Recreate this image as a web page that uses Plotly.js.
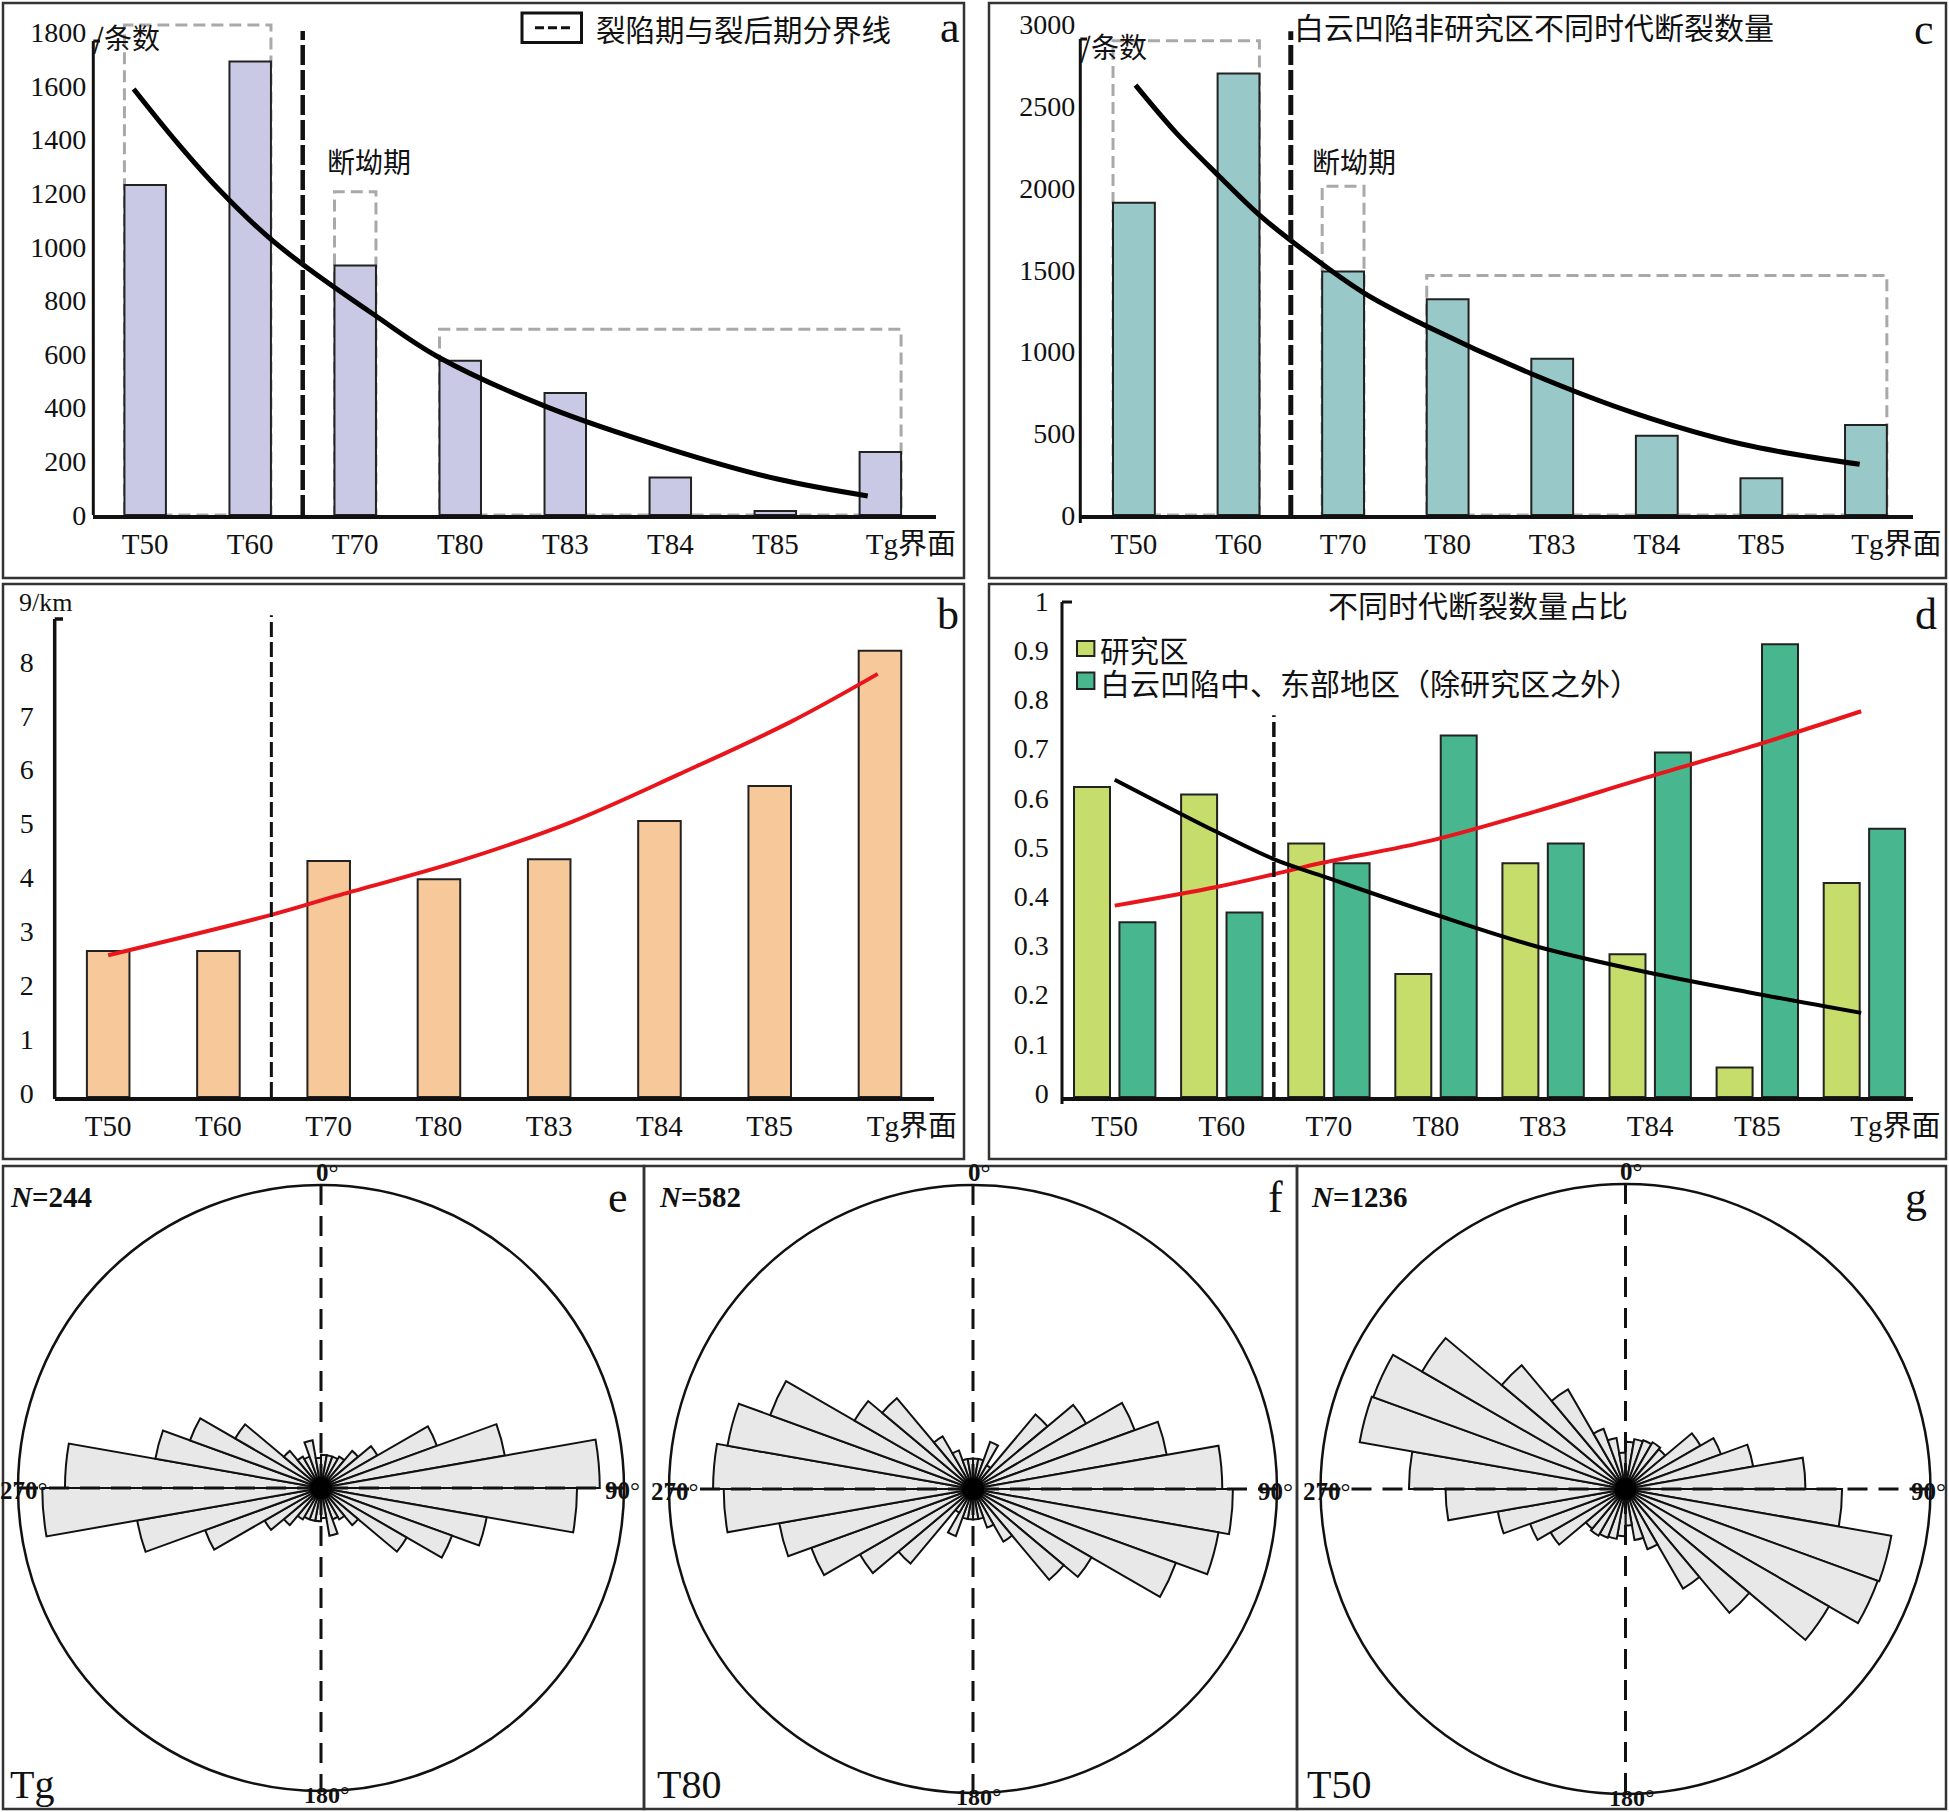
<!DOCTYPE html>
<html><head><meta charset="utf-8">
<script src="https://cdn.plot.ly/plotly-3.0.1.min.js"></script>
<style>html,body{margin:0;padding:0;background:#fff}#chart{width:1949px;height:1812px}</style>
</head><body><div id="chart"></div>
<script>
// ---------------- DATA ----------------
const categories = ['T50','T60','T70','T80','T83','T84','T85','Tg界面'];
// a: fault count, study area
const countStudy = [1230, 1690, 930, 575, 455, 140, 15, 235];
// c: fault count, Baiyun sag outside study area
const countOther = [1910, 2700, 1490, 1320, 955, 485, 225, 550];
// b: fault density (条/km), study area
const densityStudy = [2.71, 2.71, 4.38, 4.04, 4.41, 5.12, 5.77, 8.28];
// d: proportion of fault count
const ratioStudy = [0.63, 0.615, 0.515, 0.25, 0.475, 0.29, 0.06, 0.435];
const ratioOther = [0.355, 0.375, 0.475, 0.735, 0.515, 0.70, 0.92, 0.545];

// trend curves (position in category units)
const trendA_x = [-0.11, 0.3, 0.7, 1.16, 1.52, 2.17, 2.79, 3.83, 5.01, 6.02, 6.88];
const trendA_y = [1588, 1390, 1214, 1040, 928, 749, 589, 402, 244, 134, 71];
const trendC_x = [0.015, 0.4, 0.81, 1.19, 1.5, 2.19, 2.79, 3.8, 4.8, 5.81, 6.94];
const trendC_y = [2629, 2340, 2075, 1840, 1679, 1362, 1158, 864, 620, 434, 310];
const trendB_x = [0.0, 1.48, 2.07, 3.19, 4.2, 5.18, 6.19, 6.98];
const trendB_y = [2.63, 3.38, 3.73, 4.38, 5.10, 5.99, 6.96, 7.85];
const trendD_x = [0.0, 0.95, 1.49, 1.94, 2.95, 3.94, 4.96, 5.94, 6.97];
const trendD_black = [0.645, 0.539, 0.483, 0.449, 0.374, 0.306, 0.254, 0.212, 0.171];
const trendD_red = [0.389, 0.427, 0.453, 0.476, 0.521, 0.581, 0.649, 0.712, 0.784];

// dashed brackets: first category, last category, top value
const bracketsA = [[0, 1, 1826], [2, 2, 1205], [3, 7, 692]];
const bracketsC = [[0, 1, 2900], [2, 2, 2010], [3, 7, 1465]];
// rift / post-rift boundary (category units, top value)
const boundaryA = [1.5, 1804], boundaryC = [1.5, 2958], boundaryB = [1.48, 8.94], boundaryD = [1.486, 0.776];

// y tick labels
const ticksA = [0, 200, 400, 600, 800, 1000, 1200, 1400, 1600, 1800];
const ticksC = [0, 500, 1000, 1500, 2000, 2500, 3000];
const ticksB = [0, 1, 2, 3, 4, 5, 6, 7, 8];
const ticksD = [0, 0.1, 0.2, 0.3, 0.4, 0.5, 0.6, 0.7, 0.8, 0.9, 1];
const ticksDText = ['0', '0.1', '0.2', '0.3', '0.4', '0.5', '0.6', '0.7', '0.8', '0.9', '1'];

// rose diagrams: strike bins (10°) 0–180, each plotted with its opposite direction
const roseBinCenters = [5, 15, 25, 35, 45, 55, 65, 75, 85, 95, 105, 115, 125, 135, 145, 155, 165, 175];
const roseTg = [0.11, 0.11, 0.11, 0.12, 0.16, 0.215, 0.407, 0.616, 0.92, 0.845, 0.555, 0.46, 0.327, 0.16, 0.12, 0.11, 0.16, 0.10];
const roseT80 = [0.10, 0.10, 0.165, 0.09, 0.32, 0.43, 0.566, 0.647, 0.82, 0.855, 0.82, 0.71, 0.45, 0.39, 0.20, 0.135, 0.10, 0.10];
const roseT50 = [0.155, 0.166, 0.17, 0.177, 0.17, 0.284, 0.333, 0.425, 0.59, 0.71, 0.885, 0.88, 0.77, 0.53, 0.377, 0.21, 0.17, 0.12];

// ---------------- LAYOUT HELPERS ----------------
const W = 1949, H = 1812;
const SERIF = '"Liberation Serif", "Noto Sans CJK SC", serif';
const CJK = '"Noto Sans CJK SC", "Liberation Serif", sans-serif';
const PX = x => x / W, PY = y => 1 - y / H;
const idx = categories.map((c, i) => i);
const tickPos = categories.map((c, i) => i === categories.length - 1 ? i + 0.29 : i);

const P = {
  a: {x0: 93.3, x1: 936, xr: [-0.494, 7.53], yb: 515, k: 0.2683, ymax: 1850},
  c: {x0: 1080.3, x1: 1913, xr: [-0.513, 7.45], yb: 515, k: 0.1635, ymax: 3050},
  b: {x0: 54.7, x1: 934, xr: [-0.485, 7.49], yb: 1097, k: 53.9, ymax: 9.0},
  d: {x0: 1061.8, x1: 1912.6, xr: [-0.494, 7.45], yb: 1097, k: 492, ymax: 1.01}
};
function xax(p, anchor) {
  return {domain: [PX(p.x0), PX(p.x1)], range: p.xr, anchor: anchor, showgrid: false, zeroline: false,
    showline: true, linecolor: '#111', linewidth: 4, ticks: '', tickvals: tickPos, ticktext: categories,
    tickfont: {family: SERIF, size: 29, color: '#111'}, ticklabelstandoff: 0, fixedrange: true};
}
function yax(p, anchor, tv, tt, standoff, shift) {
  const o = {domain: [PY(p.yb), PY(p.yb - p.k * p.ymax)], range: [0, p.ymax], anchor: anchor, showgrid: false,
    zeroline: false, showline: false, ticks: '', tickvals: tv, tickfont: {family: SERIF, size: 28, color: '#111'},
    ticklabelstandoff: standoff, ticklabelshift: shift, fixedrange: true};
  if (tt) o.ticktext = tt;
  return o;
}

const traces = [];
const barLine = {color: '#222', width: 2};
// a
traces.push({type: 'bar', x: idx, y: countStudy, xaxis: 'x', yaxis: 'y', width: 0.395,
  marker: {color: '#c9c9e5', line: barLine}});
traces.push({type: 'scatter', mode: 'lines', x: trendA_x, y: trendA_y, xaxis: 'x', yaxis: 'y',
  line: {color: '#000', width: 5, shape: 'spline', smoothing: 1}});
// c
traces.push({type: 'bar', x: idx, y: countOther, xaxis: 'x2', yaxis: 'y2', width: 0.4,
  marker: {color: '#98c9c8', line: barLine}});
traces.push({type: 'scatter', mode: 'lines', x: trendC_x, y: trendC_y, xaxis: 'x2', yaxis: 'y2',
  line: {color: '#000', width: 5, shape: 'spline', smoothing: 1}});
// b
traces.push({type: 'bar', x: idx, y: densityStudy, xaxis: 'x3', yaxis: 'y3', width: 0.386,
  marker: {color: '#f7c99a', line: barLine}});
traces.push({type: 'scatter', mode: 'lines', x: trendB_x, y: trendB_y, xaxis: 'x3', yaxis: 'y3',
  line: {color: '#e8161c', width: 4, shape: 'spline', smoothing: 1}});
// d
traces.push({type: 'bar', x: idx, y: ratioStudy, xaxis: 'x4', yaxis: 'y4', width: 0.336, offset: -0.38,
  marker: {color: '#c6dc6b', line: barLine}});
traces.push({type: 'bar', x: idx, y: ratioOther, xaxis: 'x4', yaxis: 'y4', width: 0.336, offset: 0.044,
  marker: {color: '#48b68f', line: barLine}});
traces.push({type: 'scatter', mode: 'lines', x: trendD_x, y: trendD_red, xaxis: 'x4', yaxis: 'y4',
  line: {color: '#e8161c', width: 4, shape: 'spline', smoothing: 1}});
traces.push({type: 'scatter', mode: 'lines', x: trendD_x, y: trendD_black, xaxis: 'x4', yaxis: 'y4',
  line: {color: '#000', width: 4, shape: 'spline', smoothing: 1}});

// roses
const roses = [
  {r: roseTg, cx: 321, cy: 1488, R: 303, name: 'polar', N: '244', letter: 'e', tag: 'Tg', nX: 8, letX: 618, tagX: 8},
  {r: roseT80, cx: 973, cy: 1489, R: 304, name: 'polar2', N: '582', letter: 'f', tag: 'T80', nX: 657, letX: 1275, tagX: 655},
  {r: roseT50, cx: 1625.5, cy: 1489, R: 305, name: 'polar3', N: '1236', letter: 'g', tag: 'T50', nX: 1309, letX: 1916, tagX: 1305}
];
roses.forEach(rs => {
  traces.push({type: 'barpolar', subplot: rs.name, r: rs.r.concat(rs.r),
    theta: roseBinCenters.concat(roseBinCenters.map(t => t + 180)), width: 10,
    marker: {color: '#e8e8e8', line: {color: '#111', width: 2}}});
});

// ---------------- SHAPES ----------------
const shapes = [];
function pline(x0, y0, x1, y1, color, width, dash) {
  shapes.push({type: 'line', xref: 'paper', yref: 'paper', x0: PX(x0), y0: PY(y0), x1: PX(x1), y1: PY(y1),
    line: {color: color, width: width, dash: dash || 'solid'}});
}
function prect(x0, y0, x1, y1, color, width, fill, dash) {
  shapes.push({type: 'rect', xref: 'paper', yref: 'paper', x0: PX(x0), y0: PY(y0), x1: PX(x1), y1: PY(y1),
    line: {color: color, width: width, dash: dash || 'solid'}, fillcolor: fill || 'rgba(0,0,0,0)'});
}
// panel frames
[[3, 3, 964, 578], [989, 3, 1946, 578], [3, 584, 964, 1159], [989, 584, 1946, 1159],
 [3, 1166, 644, 1809], [644, 1166, 1297, 1809], [1297, 1166, 1946, 1809]].forEach(f => prect(f[0], f[1], f[2], f[3], '#333', 2.5));
// y axis lines
pline(93.3, 41, 93.3, 515, '#111', 3); pline(93.3, 41, 100, 41, '#111', 3);
pline(1080.3, 39, 1080.3, 523, '#111', 3); pline(1080.3, 39, 1087, 39, '#111', 3);
pline(54.7, 619, 54.7, 1099, '#111', 3.5); pline(54.7, 619, 63, 619, '#111', 3.5);
pline(1062, 602, 1062, 1104, '#111', 3); pline(1062, 602, 1072, 602, '#111', 3);
// brackets (dashed gray boxes) in data coordinates
function brackets(list, xr, yr, w) {
  list.forEach(b => shapes.push({type: 'rect', xref: xr, yref: yr, x0: b[0] - w / 2, x1: b[1] + w / 2, y0: 0, y1: b[2],
    layer: 'below', line: {color: '#a9a9a9', width: 3, dash: '12px,6px'}, fillcolor: 'rgba(0,0,0,0)'}));
}
brackets(bracketsA, 'x', 'y', 0.395);
brackets(bracketsC, 'x2', 'y2', 0.4);
// boundary lines
function boundary(bd, xr, yr, width, dash) {
  shapes.push({type: 'line', xref: xr, yref: yr, x0: bd[0], x1: bd[0], y0: 0, y1: bd[1],
    line: {color: '#111', width: width, dash: dash}});
}
boundary(boundaryA, 'x', 'y', 4.5, '20px,5px');
boundary(boundaryC, 'x2', 'y2', 5, '20px,5px');
boundary(boundaryB, 'x3', 'y3', 3, '15px,5px');
boundary(boundaryD, 'x4', 'y4', 3.5, '15px,5px');
// legend a
prect(522, 13, 581.5, 42.5, '#111', 3);
pline(535, 27.7, 572, 27.7, '#111', 3, '9px,4px');
// legend d
prect(1077, 641, 1094.4, 656, '#222', 2, '#c6dc6b');
prect(1077, 672.5, 1094.4, 689, '#222', 2, '#48b68f');
// rose crosses and centre hub
roses.forEach(rs => {
  pline(rs.cx, rs.cy - rs.R, rs.cx, rs.cy + rs.R, '#111', 3, '20px,11px');
  pline(rs.cx - rs.R, rs.cy, rs.cx + rs.R, rs.cy, '#111', 3, '20px,11px');
  shapes.push({type: 'circle', xref: 'paper', yref: 'paper', x0: PX(rs.cx - 11), x1: PX(rs.cx + 11),
    y0: PY(rs.cy + 11), y1: PY(rs.cy - 11), fillcolor: '#000', line: {width: 0}});
});

// ---------------- ANNOTATIONS ----------------
const annotations = [];
function ann(text, x, y, size, o) {
  o = o || {};
  annotations.push({text: text, xref: 'paper', yref: 'paper', x: PX(x), y: PY(y), showarrow: false,
    xanchor: o.xa || 'center', yanchor: 'middle',
    font: {family: o.family || SERIF, size: size, color: o.color || '#111'}});
}
ann('裂陷期与裂后期分界线', 594, 28, 29.5, {xa: 'left', family: CJK});
ann('断坳期', 368.5, 161, 28, {family: CJK});
ann('/条数', 91, 37, 28, {xa: 'left', family: CJK});
ann('a', 950, 28, 44);
ann('白云凹陷非研究区不同时代断裂数量', 1533.7, 26, 30, {family: CJK});
ann('断坳期', 1353.7, 161, 28, {family: CJK});
ann('/条数', 1078, 46, 28, {xa: 'left', family: CJK});
ann('c', 1924, 30, 44);
ann('9/km', 17, 602, 26, {xa: 'left'});
ann('b', 948, 614, 44);
ann('不同时代断裂数量占比', 1478, 604, 30, {family: CJK});
ann('研究区', 1098, 649, 29.5, {xa: 'left', family: CJK});
ann('白云凹陷中、东部地区（除研究区之外）', 1098, 682, 30, {xa: 'left', family: CJK});
ann('d', 1926, 614, 44);
roses.forEach(rs => {
  ann('<b><i>N</i>=' + rs.N + '</b>', rs.nX, 1197, 29, {xa: 'left'});
  ann(rs.letter, rs.letX, 1197, 44);
  ann(rs.tag, rs.tagX, 1784, 40, {xa: 'left'});
  ann('<b>0</b>°', rs.cx + 6, rs.cy - rs.R - 13, 25);
  ann('<b>180</b>°', rs.cx + 6, rs.cy + rs.R + 4, 24);
  ann('<b>270</b>°', rs.cx - rs.R + 6, rs.cy + 2, 25);
  ann('<b>90</b>°', rs.cx + rs.R - 2, rs.cy + 2, 25);
});

// ---------------- LAYOUT ----------------
const layout = {
  width: W, height: H, margin: {l: 0, r: 0, t: 0, b: 0, pad: 0},
  paper_bgcolor: '#fff', plot_bgcolor: 'rgba(0,0,0,0)', showlegend: false, barmode: 'overlay',
  xaxis: xax(P.a, 'y'), yaxis: yax(P.a, 'x', ticksA, null, 6, 0),
  xaxis2: xax(P.c, 'y2'), yaxis2: yax(P.c, 'x2', ticksC, null, 4, 0),
  xaxis3: xax(P.b, 'y3'), yaxis3: yax(P.b, 'x3', ticksB, null, 20, -4),
  xaxis4: xax(P.d, 'y4'), yaxis4: yax(P.d, 'x4', ticksD, ticksDText, 12, -4),
  shapes: shapes, annotations: annotations
};
roses.forEach(rs => {
  layout[rs.name] = {
    domain: {x: [PX(rs.cx - rs.R), PX(rs.cx + rs.R)], y: [PY(rs.cy + rs.R), PY(rs.cy - rs.R)]},
    bgcolor: 'rgba(0,0,0,0)', bargap: 0,
    angularaxis: {rotation: 90, direction: 'clockwise', showline: true, linecolor: '#111', linewidth: 2.5,
      showgrid: false, showticklabels: false, ticks: ''},
    radialaxis: {visible: false, range: [0, 1]}
  };
});

Plotly.newPlot('chart', traces, layout, {staticPlot: true, displayModeBar: false});
</script></body></html>
